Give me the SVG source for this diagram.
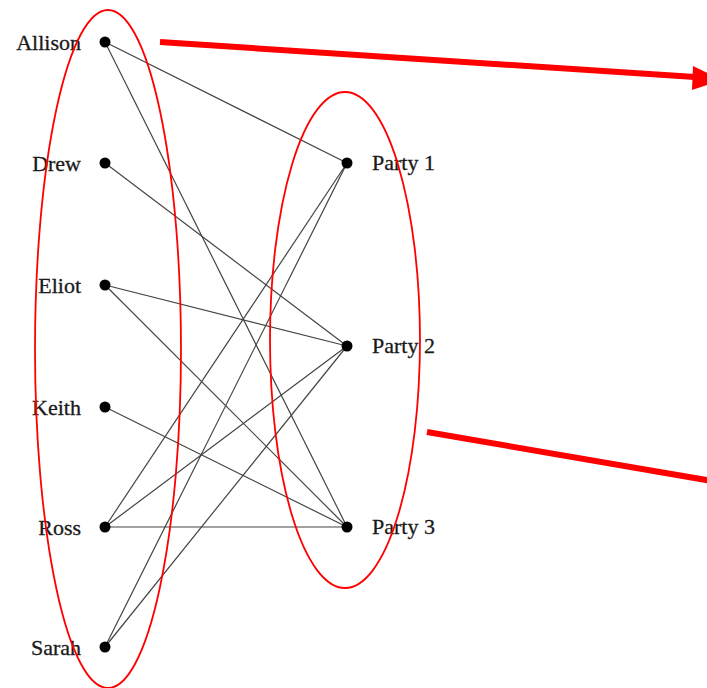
<svg xmlns="http://www.w3.org/2000/svg" width="707" height="688" viewBox="0 0 707 688">
<style>
.lbl{font-family:"Liberation Serif","Times New Roman",serif;font-size:22px;fill:#1a1a1a;stroke:#1a1a1a;stroke-width:0.3}
.e line{stroke:#444;stroke-width:1.2}
.dot{fill:#000}
.ring{fill:none;stroke:#f00;stroke-width:1.8}
.red{stroke:#f00;stroke-width:6}
</style>
<rect width="707" height="688" fill="#fff"/>
<g id="connectors" class="e">
<line x1="105" y1="42" x2="347" y2="163"/>
<line x1="105" y1="42" x2="347" y2="527"/>
<line x1="105" y1="163" x2="347" y2="346"/>
<line x1="105" y1="285" x2="347" y2="346"/>
<line x1="105" y1="285" x2="347" y2="527"/>
<line x1="105" y1="407" x2="347" y2="527"/>
<line x1="105" y1="527" x2="347" y2="163"/>
<line x1="105" y1="527" x2="347" y2="346"/>
<line x1="105" y1="527" x2="347" y2="527"/>
<line x1="105" y1="647" x2="347" y2="163"/>
<line x1="105" y1="647" x2="347" y2="346"/>
</g>
<g id="allison"><circle class="dot" cx="105" cy="42" r="5.5"/><text class="lbl" x="81" y="50" text-anchor="end">Allison</text></g>
<g id="drew"><circle class="dot" cx="105" cy="163" r="5.5"/><text class="lbl" x="81" y="171" text-anchor="end">Drew</text></g>
<g id="eliot"><circle class="dot" cx="105" cy="285" r="5.5"/><text class="lbl" x="81" y="293" text-anchor="end">Eliot</text></g>
<g id="keith"><circle class="dot" cx="105" cy="407" r="5.5"/><text class="lbl" x="81" y="415" text-anchor="end">Keith</text></g>
<g id="ross"><circle class="dot" cx="105" cy="527" r="5.5"/><text class="lbl" x="81" y="535" text-anchor="end">Ross</text></g>
<g id="sarah"><circle class="dot" cx="105" cy="647" r="5.5"/><text class="lbl" x="81" y="655" text-anchor="end">Sarah</text></g>
<g id="party1"><circle class="dot" cx="347" cy="163" r="5.5"/><text class="lbl" x="372" y="170">Party 1</text></g>
<g id="party2"><circle class="dot" cx="347" cy="346" r="5.5"/><text class="lbl" x="372" y="353">Party 2</text></g>
<g id="party3"><circle class="dot" cx="347" cy="527" r="5.5"/><text class="lbl" x="372" y="534">Party 3</text></g>
<g id="people-group"><ellipse class="ring" cx="108" cy="349" rx="73" ry="339"/></g>
<g id="party-group"><ellipse class="ring" cx="345" cy="340" rx="75" ry="248"/></g>
<g id="arrows">
<line class="red" x1="160" y1="42" x2="695" y2="77"/>
<polygon points="693,66 722,80 692,90" fill="#f00"/>
<line class="red" x1="427" y1="432" x2="712" y2="481"/>
</g>
</svg>
